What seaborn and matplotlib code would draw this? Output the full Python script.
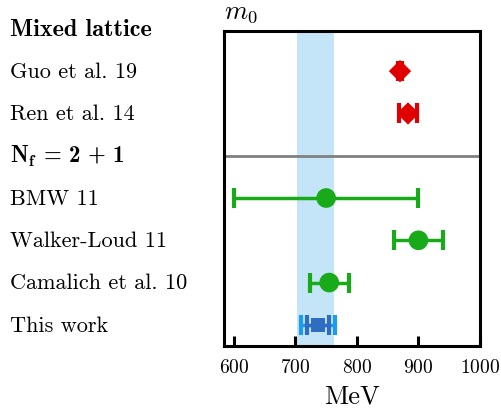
import numpy as np
import pandas as pd
import matplotlib
matplotlib.use("Agg")
import matplotlib.pyplot as plt
import matplotlib.transforms as mtransforms
import seaborn as sns

# ---- data ----
labels = ["Mixed lattice", "Guo et al. 19", "Ren et al. 14",
          r"$\mathbf{N_f}$ = 2 + 1",
          "BMW 11", "Walker-Loud 11", "Camalich et al. 10", "This work"]
bold_rows = [0, 3]
names = ["Guo et al. 19", "Ren et al. 14", "BMW 11", "Walker-Loud 11",
         "Camalich et al. 10", "This work"]
rows = [1, 2, 4, 5, 6, 7]
values = [870, 883, 750, 900, 755, 737]
errors = [4, 15, 150, 40, 32, 18]
total_err_this_work = 28
groups = ["mixed", "mixed", "nf", "nf", "nf", "this"]
band = [702, 763]

sns.set_style("white")
plt.rcParams['font.family'] = ['cmr10']
plt.rcParams['mathtext.fontset'] = 'cm'
plt.rcParams['axes.formatter.use_mathtext'] = True
plt.rcParams['text.color'] = 'black'
plt.rcParams['axes.labelcolor'] = 'black'
plt.rcParams['xtick.color'] = 'black'
plt.rcParams['ytick.color'] = 'black'

df = pd.DataFrame({"name": names, "row": rows, "value": values, "err": errors, "group": groups})

fig = plt.figure(figsize=(5.02, 4.14), dpi=100)
ax = fig.add_axes([224/502, 1-347/414, (480-224)/502, (347-32)/414])

red = "#e00000"
green = "#19aa19"
blue_dark = "#2e6dbf"
blue_light = "#1a9cf0"

ax.axvspan(band[0], band[1], color="#c4e4f8", lw=0, zorder=0)
ax.axhline(3, color="#808080", lw=2, zorder=1)

colors = {"mixed": red, "nf": green, "this": blue_dark}
for _, r in df.iterrows():
    c = colors[r.group]
    if r.group == "this":
        ax.errorbar(r.value, r.row, xerr=total_err_this_work, fmt="none", ecolor=blue_light,
                    elinewidth=2.5, capsize=7, capthick=3, zorder=2)
    ax.errorbar(r.value, r.row, xerr=r.err, fmt="none", ecolor=c,
                elinewidth=2.5, capsize=7, capthick=3, zorder=3)

markers = {"mixed": "D", "nf": "o", "this": "s"}
sizes = {"mixed": 130, "nf": 200, "this": 110}
for g in ["mixed", "nf", "this"]:
    sub = df[df.group == g]
    sns.scatterplot(data=sub, x="value", y="row", ax=ax, marker=markers[g],
                    s=sizes[g], color=colors[g], edgecolor="none", zorder=4, legend=False)

ax.set_xlim(584, 1000)
ax.set_ylim(7.5, 0.05)
ax.set_xticks([600, 700, 800, 900, 1000])
ax.set_yticks([])
ax.set_ylabel("")
ax.set_xlabel("MeV", fontsize=19, labelpad=5)
ax.tick_params(axis="x", direction="in", length=7, width=2.2, labelsize=14, pad=9, bottom=True)
for s in ax.spines.values():
    s.set_linewidth(2.2)
    s.set_color("black")
ax.set_title(r"$m_0$", loc="left", fontsize=19, pad=10)

trans = mtransforms.blended_transform_factory(fig.transFigure, ax.transData)
for i, lab in enumerate(labels):
    if i in bold_rows:
        ax.text(10/502, i, lab, transform=trans, ha="left", va="center",
                fontsize=17.5 if i == 0 else 16.5, family="cmb10")
    else:
        ax.text(10/502, i, lab, transform=trans, ha="left", va="center", fontsize=16)

fig.savefig("out.png", dpi=100)
